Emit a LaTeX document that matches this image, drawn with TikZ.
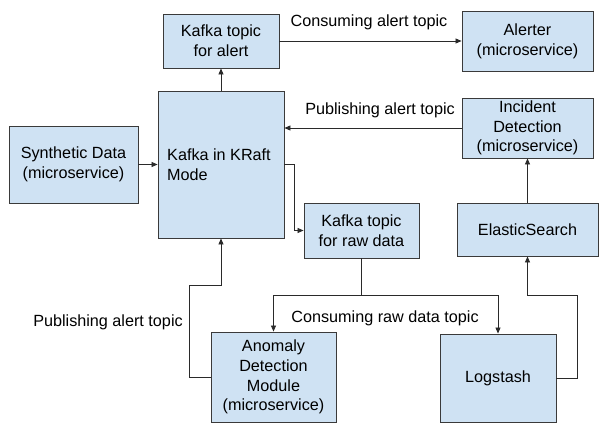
\documentclass[tikz,border=0pt]{standalone}
\usepackage{fontspec}
\setmainfont{Liberation Sans}
\usetikzlibrary{arrows.meta}
\definecolor{boxfill}{HTML}{CFE2F3}
\definecolor{boxline}{HTML}{3A3A3A}
\definecolor{wire}{HTML}{2A2A2A}
\tikzset{
  box/.style={draw=boxline, fill=boxfill, line width=0.9pt, inner sep=0pt, align=center,
    font=\fontsize{16.2}{19.8}\selectfont},
  arr/.style={draw=wire, line width=0.8pt, -{Triangle[length=6pt,width=5pt]}},
  lbl/.style={font=\fontsize{16.2}{19}\selectfont, inner sep=0pt}
}
\begin{document}
\begin{tikzpicture}[x=1pt,y=-1pt]
\useasboundingbox (0,0) rectangle (611,439);
\fill[white] (0,0) rectangle (611,439);
% boxes
\node[box, minimum width=129pt, minimum height=77pt] (synth) at (73.5,164.5) {Synthetic Data\\(microservice)};
\node[box, minimum width=126pt, minimum height=147pt] (kafka) at (221,164.5) {};
\node[font=\fontsize{16.2}{19.8}\selectfont, align=left, anchor=west, inner sep=0pt] (kafkatext) at (167,165) {Kafka in KRaft\\Mode};
\node[box, minimum width=116pt, minimum height=54pt] (atopic) at (221,41) {Kafka topic\\for alert};
\node[box, minimum width=115pt, minimum height=55pt] (rtopic) at (361.5,230.5) {Kafka topic\\for raw data};
\node[box, minimum width=131pt, minimum height=60pt] (alerter) at (527.5,41) {Alerter\\(microservice)};
\node[box, minimum width=131pt, minimum height=60pt] (incident) at (527.5,128) {Incident\\Detection\\(microservice)};
\node[box, minimum width=141pt, minimum height=53pt] (elastic) at (527.5,229.5) {ElasticSearch};
\node[box, minimum width=125pt, minimum height=90pt] (anomaly) at (273.5,377) {Anomaly\\Detection\\Module\\(microservice)};
\node[box, minimum width=116pt, minimum height=88pt] (logstash) at (498,378) {Logstash};
% connectors
\draw[arr] (synth.east) -- (kafka.west |- synth.east);
\draw[arr] (kafka.north) -- (atopic.south);
\draw[arr] (atopic.east) -- (alerter.west |- atopic.east);
\draw[arr] (incident.west) -- (kafka.east |- incident.west);
\coordinate (kr) at (294,164);
\draw[arr] (kafka.east |- kr) -- (kr) |- (rtopic.west);
\coordinate (split) at (361.5,295);
\draw[arr] (rtopic.south) -- (split) -| (anomaly.north);
\draw[arr] (split) -| (logstash.north);
\coordinate (pa) at (189,285);
\draw[arr] (anomaly.west) -| (pa) -| (kafka.south);
\coordinate (pl) at (577,295);
\draw[arr] (logstash.east) -| (pl) -| (elastic.south);
\draw[arr] (elastic.north) -- (incident.south);
% labels
\node[lbl] (l1) at (369,22) {Consuming alert topic};
\node[lbl] (l2) at (380,110) {Publishing alert topic};
\node[lbl] (l3) at (385,318) {Consuming raw data topic};
\node[lbl] (l4) at (108,322) {Publishing alert topic};
\end{tikzpicture}
\end{document}
